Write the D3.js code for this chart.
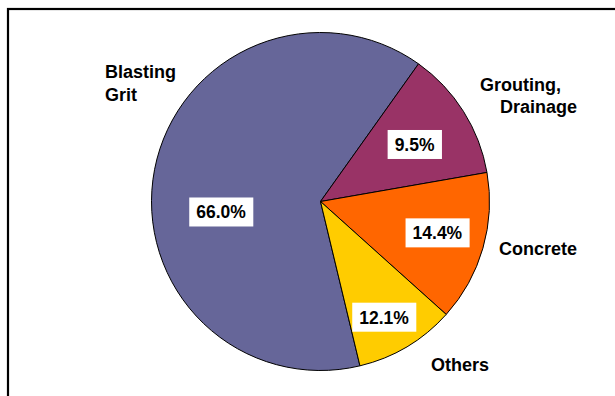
<!DOCTYPE html>
<html>
<head>
<meta charset="utf-8">
<script src="https://cdn.jsdelivr.net/npm/d3@7"></script>
<style>
  body { margin: 0; background: #fff; }
  svg { display: block; }
  text { font-family: "Liberation Sans", Arial, sans-serif; font-weight: bold; fill: #000; }
</style>
</head>
<body>
<svg id="chart" width="615" height="396"></svg>
<script>
// ----------------------------
// Data
// ----------------------------
const categories = ["Blasting Grit", "Grouting, Drainage", "Concrete", "Others"];
// slice shares as drawn
const sliceShares = [63.6, 12.4, 14.4, 9.6];
// percentages as printed on the labels
const labelValues = [66.0, 9.5, 14.4, 12.1];
const colors = ["#666699", "#993366", "#FF6600", "#FFCC00"];

// ----------------------------
// Layout
// ----------------------------
const cx = 320.5, cy = 201.5, R = 169;
const startDeg = 166.5;
const pctRadius = [100, 110, 121, 132];   // label distance from centre
const pctNudge = [-17, 1, -1, 2];        // degrees
const catLines = [
  [{ t: "Blasting", x: 105, y: 78 }, { t: "Grit", x: 105, y: 101 }],
  [{ t: "Grouting,", x: 480, y: 91 }, { t: "Drainage", x: 500, y: 113 }],
  [{ t: "Concrete", x: 499, y: 255 }],
  [{ t: "Others", x: 431, y: 371 }]
];

const svg = d3.select("#chart");

// frame
svg.append("rect")
    .attr("x", 8)
    .attr("y", 9)
    .attr("width", 700)
    .attr("height", 500)
    .attr("fill", "none")
    .attr("stroke", "#000")
    .attr("stroke-width", 2.2);

const toRad = d => d * Math.PI / 180;
const pie = d3.pie()
    .sort(null)
    .value(d => d)
    .startAngle(toRad(startDeg))
    .endAngle(toRad(startDeg) + 2 * Math.PI);
const arcs = pie(sliceShares);

const arc = d3.arc().innerRadius(0).outerRadius(R);

const g = svg.append("g").attr("transform", `translate(${cx},${cy})`);

g.selectAll("path.slice")
  .data(arcs)
  .join("path")
    .attr("class", "slice")
    .attr("d", arc)
    .attr("fill", (d, i) => colors[i])
    .attr("stroke", "#000")
    .attr("stroke-width", 1);

// percentage labels in white boxes
const fmt = d3.format(".1f");
arcs.forEach((d, i) => {
  const a = (d.startAngle + d.endAngle) / 2 + toRad(pctNudge[i]);
  const px = Math.sin(a) * pctRadius[i];
  const py = -Math.cos(a) * pctRadius[i];
  const lg = g.append("g").attr("transform", `translate(${px},${py})`);
  const rect = lg.append("rect").attr("fill", "#fff");
  const txt = lg.append("text")
      .attr("text-anchor", "middle")
      .attr("dy", "0.36em")
      .style("font-size", "17.5px")
      .text(fmt(labelValues[i]) + "%");
  const bb = txt.node().getBBox();
  rect.attr("x", bb.x - 7)
      .attr("y", -14.5)
      .attr("width", bb.width + 14)
      .attr("height", 29);
});

// category labels
catLines.forEach((lines, i) => {
  lines.forEach(l => {
    svg.append("text")
        .attr("x", l.x)
        .attr("y", l.y)
        .style("font-size", "18px")
        .text(l.t);
  });
});
</script>
</body>
</html>
